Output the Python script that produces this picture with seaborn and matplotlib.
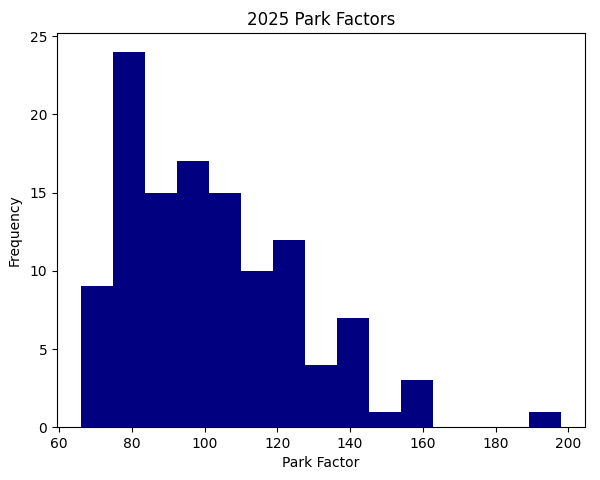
import matplotlib
matplotlib.use("Agg")
import matplotlib.pyplot as plt
import seaborn as sns
import numpy as np
import pandas as pd

# Histogram bins
bin_min = 66.0
bin_max = 198.0
n_bins = 15
counts = [9, 24, 15, 17, 15, 10, 12, 4, 7, 1, 3, 0, 0, 0, 1]

edges = np.linspace(bin_min, bin_max, n_bins + 1)
centers = (edges[:-1] + edges[1:]) / 2
df = pd.DataFrame({"Park Factor": centers, "count": counts})

fig = plt.figure(figsize=(6.0, 4.8), dpi=100)
ax = fig.add_axes([0.095, 0.110, 0.880, 0.821])
sns.histplot(data=df, x="Park Factor", weights="count", bins=n_bins,
             binrange=(bin_min, bin_max),
             color="navy", edgecolor="white", linewidth=0.0, alpha=1.0, ax=ax)
ax.set_xlim(bin_min - 0.05 * (bin_max - bin_min), bin_max + 0.05 * (bin_max - bin_min))
ax.set_ylim(0, 25.2)
ax.set_title("2025 Park Factors")
ax.set_xlabel("Park Factor")
ax.set_ylabel("Frequency", labelpad=6)
fig.savefig("out.png", dpi=100)
